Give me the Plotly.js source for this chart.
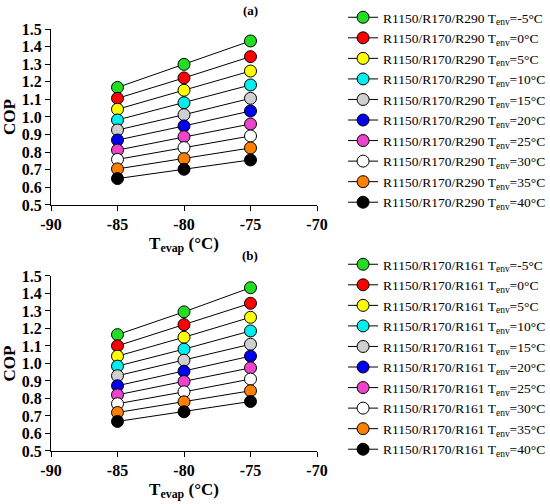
<!DOCTYPE html>
<html><head><meta charset="utf-8">
<script src="https://cdn.plot.ly/plotly-3.0.1.min.js"></script>
<style>html,body{margin:0;padding:0;background:#fff}#chart{width:550px;height:504px}</style>
</head><body><div id="chart"></div>
<script>
const tevap = [-85, -80, -75];
const xTickVals = [-90, -85, -80, -75, -70];
const xTickText = ['-90', '-85', '-80', '-75', '-70'];
const yTickVals = [0.5, 0.6, 0.7, 0.8, 0.9, 1.0, 1.1, 1.2, 1.3, 1.4, 1.5];
const yTickText = ['0.5', '0.6', '0.7', '0.8', '0.9', '1.0', '1.1', '1.2', '1.3', '1.4', '1.5'];
const tenvLabels = ['-5', '0', '5', '10', '15', '20', '25', '30', '35', '40'];
const colors = ['#22dd22', '#ff0000', '#ffff00', '#00eeee', '#d0d0d0', '#0000ee', '#ee44cc', '#ffffff', '#ff7f00', '#000000'];
const copR290 = [
  [1.168, 1.299, 1.432],
  [1.106, 1.222, 1.343],
  [1.044, 1.152, 1.261],
  [0.983, 1.081, 1.182],
  [0.926, 1.013, 1.106],
  [0.869, 0.949, 1.034],
  [0.812, 0.888, 0.960],
  [0.759, 0.826, 0.892],
  [0.705, 0.763, 0.824],
  [0.650, 0.703, 0.756]
];
const copR161 = [
  [1.165, 1.295, 1.433],
  [1.101, 1.222, 1.344],
  [1.042, 1.150, 1.264],
  [0.985, 1.082, 1.186],
  [0.930, 1.019, 1.110],
  [0.873, 0.956, 1.042],
  [0.821, 0.897, 0.975],
  [0.770, 0.838, 0.911],
  [0.720, 0.781, 0.844],
  [0.669, 0.724, 0.783]
];
const mixA = 'R1150/R170/R290';
const mixB = 'R1150/R170/R161';

const traces = [];
function addSeries(data, mix, xa, ya, leg) {
  data.forEach((ys, i) => {
    traces.push({
      x: tevap, y: ys, xaxis: xa, yaxis: ya, legend: leg,
      type: 'scatter', mode: 'lines+markers',
      name: mix + ' T<sub>env</sub>=' + tenvLabels[i] + '°C',
      line: {color: '#000', width: 1},
      marker: {size: 12, color: colors[i], line: {color: '#000', width: 1}}
    });
  });
}
addSeries(copR290, mixA, 'x', 'y', 'legend');
addSeries(copR161, mixB, 'x2', 'y2', 'legend2');

const serif = 'Liberation Serif';
const tickFont = {family: serif, size: 16, color: '#000'};
function xax(anchor) {
  return {
    anchor: anchor, range: [-90, -70], tickmode: 'array', tickvals: xTickVals,
    ticktext: xTickText.map(t => '<b>' + t + '</b>'),
    ticks: 'outside', ticklen: 5, tickcolor: '#000', showline: true, linecolor: '#000', linewidth: 1,
    showgrid: false, zeroline: false, tickfont: tickFont,
    title: {text: '<b>T<sub>evap</sub> (°C)</b>', font: {family: serif, size: 17, color: '#000'}, standoff: 4}
  };
}
function yax(anchor, dom) {
  return {
    anchor: anchor, domain: dom, range: [0.5, 1.5], tickmode: 'array', tickvals: yTickVals,
    ticktext: yTickText.map(t => '<b>' + t + '</b>'),
    ticks: 'outside', ticklen: 5, tickcolor: '#000', showline: true, linecolor: '#000', linewidth: 1,
    showgrid: false, zeroline: false, tickfont: tickFont,
    title: {text: '<b>COP</b>', font: {family: serif, size: 17, color: '#000'}, standoff: 4}
  };
}
const legFont = {family: serif, size: 13.5, color: '#000'};
const layout = {
  width: 550, height: 504,
  margin: {l: 51, r: 233, t: 29, b: 53, autoexpand: false},
  paper_bgcolor: '#fff', plot_bgcolor: '#fff',
  showlegend: true,
  xaxis: xax('y'), yaxis: yax('x', [0.583, 1]),
  xaxis2: xax('y2'), yaxis2: yax('x2', [0, 0.4147]),
  legend: {x: 1.098, y: 1.064, xanchor: 'left', yanchor: 'top', font: legFont, bgcolor: 'rgba(0,0,0,0)', tracegroupgap: 0},
  legend2: {x: 1.098, y: 0.4787, xanchor: 'left', yanchor: 'top', font: legFont, bgcolor: 'rgba(0,0,0,0)', tracegroupgap: 0},
  annotations: [
    {text: '<b>(a)</b>', xref: 'paper', yref: 'paper', xanchor: 'center', yanchor: 'middle', x: (250 - 51) / 266, y: 1 + (29 - 10) / 422, showarrow: false, font: {family: serif, size: 13, color: '#000'}},
    {text: '<b>(b)</b>', xref: 'paper', yref: 'paper', xanchor: 'center', yanchor: 'middle', x: (250 - 51) / 266, y: (451 - 255) / 422, showarrow: false, font: {family: serif, size: 13, color: '#000'}}
  ]
};
Plotly.newPlot('chart', traces, layout, {displayModeBar: false, staticPlot: true});
</script>
</body></html>
